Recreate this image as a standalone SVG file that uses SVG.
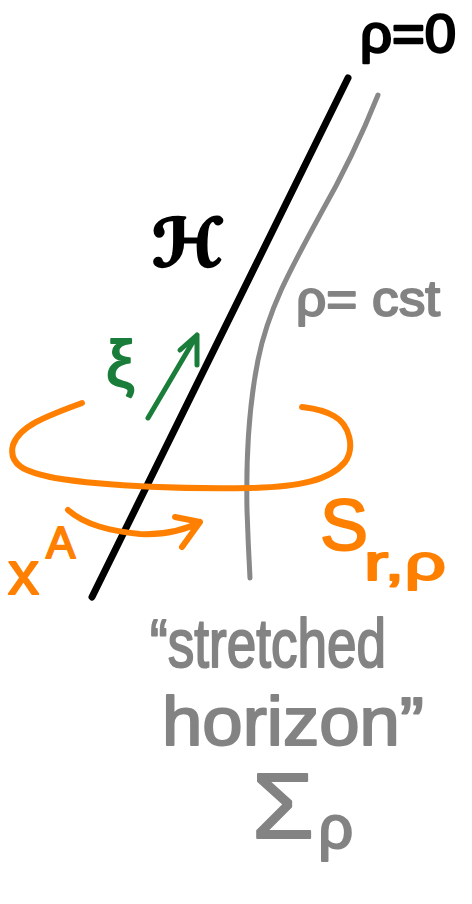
<svg xmlns="http://www.w3.org/2000/svg" width="472" height="904" viewBox="0 0 472 904">
<style>
.s{fill:none;stroke-linecap:round;stroke-linejoin:round}
.k{stroke:#000;stroke-width:7}
.g{stroke:#888;stroke-width:5}
.o{stroke:#ff8000;stroke-width:6}
.gr{stroke:#1b7d3a;stroke-width:5}
text{font-family:"Liberation Sans","DejaVu Sans",sans-serif;stroke-linejoin:round}
.tk{fill:#000;stroke:#000;stroke-width:2.5}
.tg{fill:#838383;stroke:#838383;stroke-width:2}
.to{fill:#ff8000;stroke:#ff8000;stroke-width:2}
.tgr{fill:#1b7d3a;stroke:#1b7d3a;stroke-width:2}
</style>
<rect width="472" height="904" fill="#fff"/>
<g id="lines">
<path id="horizon" class="s k" d="M348 78 L92 597"/>
<path id="rho-cst-line" class="s g" d="M378 95 C360 140 340 180 320 215 C290 270 268 310 258 360 C248 410 246 460 247 510 C248 540 249 560 250 578"/>
<path id="xi-arrow" class="s gr" d="M148 418 L197 335 M180 350 L197 335 L197 365"/>
<path id="sphere" class="s o" d="M82 403 C50 415 20 425 13 445 C8 465 25 472 55 478 C110 487 190 489 250 488 C300 487 330 480 345 462 C355 448 350 425 334 416 C322 409 310 408 302 407"/>
<path id="xA-arrow" class="s o" d="M68 510 C85 525 110 531 140 534 C165 535 185 530 200 522 M175 517 L200 522 L182 547"/>
</g>
<g id="label-rho0"><text class="tk" x="360" y="52" font-size="54" textLength="96" lengthAdjust="spacingAndGlyphs">ρ=0</text></g>
<g id="label-H"><text x="152" y="266" font-size="66" font-family="DejaVu Sans" font-weight="bold" class="tk">ℋ</text></g>
<g id="label-rhocst"><text class="tg" x="296" y="316" font-size="50" textLength="144" lengthAdjust="spacingAndGlyphs">ρ= cst</text></g>
<g id="label-xi"><text class="tgr" x="106" y="386" font-size="64" font-family="DejaVu Sans">ξ</text></g>
<g id="label-xA"><text class="to" x="8" y="594" font-size="62">x</text><text class="to" x="46" y="558" font-size="44">A</text></g>
<g id="label-S"><text class="to" x="320" y="550" font-size="72">S</text><text class="to" x="364" y="580" font-size="50" textLength="82" lengthAdjust="spacingAndGlyphs">r,ρ</text></g>
<g id="label-stretched"><text class="tg" x="150" y="667" font-size="68" textLength="236" lengthAdjust="spacingAndGlyphs">“stretched</text><text class="tg" x="162" y="745" font-size="68" textLength="262" lengthAdjust="spacingAndGlyphs">horizon”</text></g>
<g id="label-sigma"><text class="tg" x="252" y="838" font-size="92" textLength="62" lengthAdjust="spacingAndGlyphs">Σ</text><text class="tg" x="318" y="848" font-size="62">ρ</text></g>
</svg>
